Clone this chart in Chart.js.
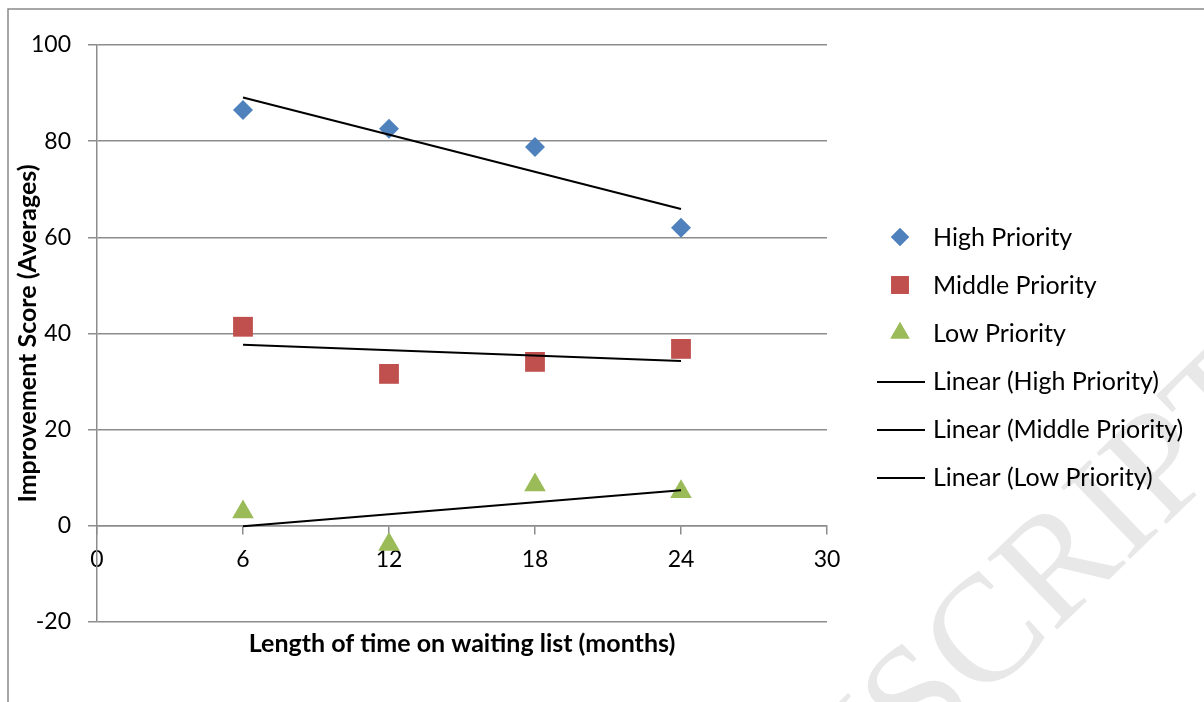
<!DOCTYPE html>
<html>
<head>
<meta charset="utf-8">
<script src="https://cdn.jsdelivr.net/npm/chart.js@4/dist/chart.umd.min.js"></script>
<style>
  html, body { margin: 0; padding: 0; background: #ffffff; }
  #chart { display: block; }
</style>
</head>
<body>
<canvas id="chart" width="1204" height="702"></canvas>
<script>
// Waiting time (months) at which each improvement score was averaged
const months = [6, 12, 18, 24];

// Average improvement scores by priority group
const highPriority = [86.5, 82.6, 78.8, 62.0];
const middlePriority = [41.4, 31.6, 34.1, 36.8];
const lowPriority = [2.9, -3.9, 8.5, 7.1];

const seriesNames = ['High Priority', 'Middle Priority', 'Low Priority'];
const trendNames = ['Linear (High Priority)', 'Linear (Middle Priority)', 'Linear (Low Priority)'];

// Axis ticks
const xTicks = [0, 6, 12, 18, 24, 30];
const yTicks = [-20, 0, 20, 40, 60, 80, 100];

const FONT = 'Lato, "Open Sans", sans-serif';
const AXIS_GREY = '#8c8c8c';

// Least-squares line across the observed x range
function linearTrend(xs, ys) {
  const n = xs.length;
  const mx = xs.reduce((a, b) => a + b, 0) / n;
  const my = ys.reduce((a, b) => a + b, 0) / n;
  let sxy = 0, sxx = 0;
  for (let i = 0; i < n; i++) {
    sxy += (xs[i] - mx) * (ys[i] - my);
    sxx += (xs[i] - mx) * (xs[i] - mx);
  }
  const slope = sxy / sxx;
  const intercept = my - slope * mx;
  const x0 = Math.min(...xs), x1 = Math.max(...xs);
  return [{ x: x0, y: intercept + slope * x0 }, { x: x1, y: intercept + slope * x1 }];
}

const toPoints = (ys) => months.map((m, i) => ({ x: m, y: ys[i] }));

const markerSets = [
  { values: highPriority, color: '#4F81BD', style: 'rectRot', radius: 10, legendRadius: 9 },
  { values: middlePriority, color: '#C0504D', style: 'rect', radius: 14, legendRadius: 12.5 },
  { values: lowPriority, color: '#9BBB59', style: 'triangle', radius: 12.5, legendRadius: 11 }
];

const datasets = [];
markerSets.forEach((s, i) => {
  datasets.push({
    label: seriesNames[i],
    data: toPoints(s.values),
    showLine: false,
    pointStyle: s.style,
    pointRadius: s.radius,
    pointHoverRadius: s.radius,
    pointBackgroundColor: s.color,
    pointBorderColor: s.color,
    pointBorderWidth: 0,
    legendRadius: s.legendRadius,
    order: 1
  });
});
markerSets.forEach((s, i) => {
  datasets.push({
    label: trendNames[i],
    data: linearTrend(months, s.values),
    showLine: true,
    borderColor: '#000000',
    borderWidth: 2,
    pointRadius: 0,
    pointHoverRadius: 0,
    pointStyle: 'line',
    order: 0
  });
});

// Right-hand legend: markers for the score series, short black rules for the trend lines
const sideLegend = {
  id: 'sideLegend',
  afterDraw(chart) {
    const { ctx, chartArea } = chart;
    const markerX = chartArea.right + 73;
    const textX = chartArea.right + 106;
    const firstRow = chartArea.top + 192;
    const rowGap = 48;
    ctx.save();
    ctx.font = '25px ' + FONT;
    ctx.fillStyle = '#000000';
    ctx.textBaseline = 'middle';
    ctx.textAlign = 'left';
    chart.data.datasets.forEach((ds, i) => {
      const y = firstRow + i * rowGap;
      if (ds.showLine) {
        ctx.strokeStyle = ds.borderColor;
        ctx.lineWidth = 2;
        ctx.beginPath();
        ctx.moveTo(markerX - 23, y + 1);
        ctx.lineTo(markerX + 25, y + 1);
        ctx.stroke();
      } else {
        ctx.fillStyle = ds.pointBackgroundColor;
        ctx.strokeStyle = ds.pointBorderColor;
        ctx.lineWidth = 0;
        Chart.helpers.drawPoint(ctx, {
          pointStyle: ds.pointStyle,
          radius: ds.legendRadius,
          rotation: 0,
          borderWidth: 0
        }, markerX, y);
        ctx.fill();
      }
      ctx.fillStyle = '#000000';
      ctx.fillText(ds.label, textX, y + 1);
    });
    ctx.restore();
  }
};

// Page frame and faint diagonal stamp behind the chart
const pageDecor = {
  id: 'pageDecor',
  beforeDraw(chart) {
    const { ctx } = chart;
    ctx.save();
    ctx.fillStyle = '#ffffff';
    ctx.fillRect(0, 0, chart.width, chart.height);

    const stamp = 'ACCEPTED MANUSCRIPT';
    const size = 152;
    ctx.font = size + 'px "Liberation Serif", "DejaVu Serif", serif';
    ctx.fillStyle = '#e8e8e8';
    ctx.textBaseline = 'alphabetic';
    ctx.textAlign = 'left';
    const before = ctx.measureText('ACCEPTED MANU').width;
    const sWidth = ctx.measureText('S').width;
    ctx.translate(915, 697);
    ctx.rotate(-44 * Math.PI / 180);
    ctx.fillText(stamp, -(before + sWidth / 2), size * 0.33);
    ctx.restore();

    ctx.save();
    ctx.strokeStyle = '#8a8a8a';
    ctx.lineWidth = 1.5;
    ctx.beginPath();
    ctx.moveTo(8, chart.height);
    ctx.lineTo(8, 9);
    ctx.lineTo(chart.width, 9);
    ctx.stroke();
    ctx.restore();
  }
};

new Chart(document.getElementById('chart'), {
  type: 'scatter',
  data: { datasets },
  plugins: [pageDecor, sideLegend],
  options: {
    responsive: false,
    animation: false,
    devicePixelRatio: 1,
    layout: { padding: { left: 0, right: 377, top: 45, bottom: 0 } },
    plugins: {
      legend: { display: false },
      tooltip: { enabled: false }
    },
    scales: {
      x: {
        type: 'linear',
        position: { y: 0 },
        min: 0,
        max: 30,
        afterBuildTicks: (scale) => { scale.ticks = xTicks.map(v => ({ value: v })); },
        grid: {
          drawOnChartArea: false,
          drawTicks: true,
          tickLength: 8,
          tickColor: AXIS_GREY,
          lineWidth: 1.5
        },
        border: { display: true, color: AXIS_GREY, width: 1.5 },
        ticks: {
          padding: 12,
          color: '#000000',
          font: { family: FONT, size: 23 }
        }
      },
      xTitle: {
        type: 'linear',
        axis: 'x',
        position: 'bottom',
        min: 0,
        max: 30,
        afterFit: (scale) => { scale.height = 80; },
        grid: { display: false, drawTicks: false },
        border: { display: false },
        ticks: { display: false },
        title: {
          display: true,
          text: 'Length of time on waiting list (months)',
          color: '#000000',
          font: { family: FONT, size: 25, weight: 'bold' },
          padding: { top: 0, bottom: 43 }
        }
      },
      y: {
        type: 'linear',
        position: 'left',
        min: -20,
        max: 100,
        afterBuildTicks: (scale) => { scale.ticks = yTicks.map(v => ({ value: v })); },
        afterFit: (scale) => { scale.width = 97; },
        grid: {
          color: AXIS_GREY,
          lineWidth: 1.5,
          drawTicks: true,
          tickLength: 9,
          tickColor: AXIS_GREY
        },
        border: { display: true, color: AXIS_GREY, width: 1.5 },
        ticks: {
          padding: 17,
          color: '#000000',
          font: { family: FONT, size: 23 }
        },
        title: {
          display: true,
          text: 'Improvement Score (Averages)',
          color: '#000000',
          font: { family: FONT, size: 25, weight: 'bold' },
          padding: { top: 13, bottom: 0 }
        }
      }
    }
  }
});
</script>
</body>
</html>
